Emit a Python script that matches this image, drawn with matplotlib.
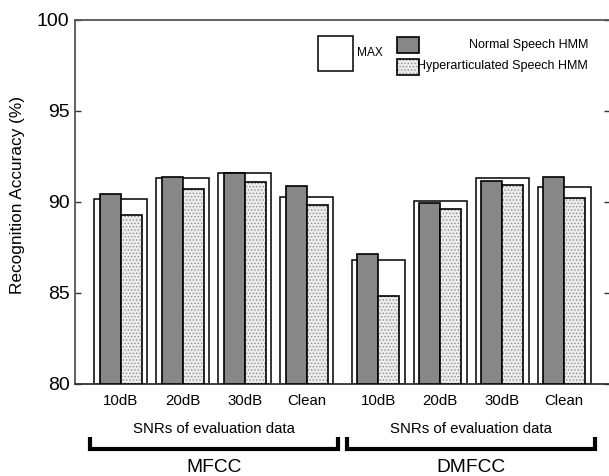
import matplotlib
matplotlib.use("Agg")
import matplotlib.pyplot as plt
from matplotlib.patches import Rectangle
from matplotlib.lines import Line2D
import numpy as np

plt.rcParams['font.family'] = ['Liberation Sans', 'DejaVu Sans']

# ---------------- data ----------------
snr_labels = ["10dB", "20dB", "30dB", "Clean"]
feature_groups = ["MFCC", "DMFCC"]
group_subtitle = "SNRs of evaluation data"

max_mfcc = [90.18, 91.34, 91.62, 90.30]
normal_mfcc = [90.42, 91.35, 91.60, 90.90]
hyper_mfcc = [89.30, 90.72, 91.10, 89.82]

max_dmfcc = [86.82, 90.03, 91.30, 90.84]
normal_dmfcc = [87.12, 89.95, 91.14, 91.38]
hyper_dmfcc = [84.83, 89.60, 90.95, 90.24]

y_ticks = [80, 85, 90, 95, 100]

# ---------------- figure ----------------
W, H = 609, 476
fig = plt.figure(figsize=(W / 100, H / 100), dpi=100)

def fx(px):
    return px / W

def fy(py):
    return 1 - py / H

ax_left, ax_right, ax_top, ax_bottom = 75, 610, 20, 384
ax = fig.add_axes([fx(ax_left), fy(ax_bottom), fx(ax_right - ax_left), (ax_bottom - ax_top) / H])

def axfx(px):
    return (px - ax_left) / (ax_right - ax_left)

def axfy(py):
    return (ax_bottom - py) / (ax_bottom - ax_top)

group_offset = 4.15
x1 = np.arange(4)
x2 = np.arange(4) + group_offset
xs = np.concatenate([x1, x2])
max_vals = np.array(max_mfcc + max_dmfcc)
normal_vals = np.array(normal_mfcc + normal_dmfcc)
hyper_vals = np.array(hyper_mfcc + hyper_dmfcc)

wmax = 0.855
win = 0.335
base = 80

ax.bar(xs, max_vals - base, bottom=base, width=wmax, color='white',
       edgecolor='black', linewidth=1.1, zorder=2)
ax.bar(xs - win / 2, normal_vals - base, bottom=base, width=win, color='#878787',
       edgecolor='black', linewidth=1.2, zorder=3)
# hyper: light dotted fill
plt.rcParams['hatch.linewidth'] = 0.6
ax.bar(xs + win / 2, hyper_vals - base, bottom=base, width=win, color='#ececec',
       edgecolor='#8f8f8f', linewidth=0, hatch='.....', zorder=3)
ax.bar(xs + win / 2, hyper_vals - base, bottom=base, width=win, fill=False,
       edgecolor='black', linewidth=1.2, zorder=4)

ax.set_ylim(80, 100)
ax.set_xlim(-0.742, 7.15 + 0.742)
ax.set_yticks(y_ticks)
ax.set_yticklabels([str(t) for t in y_ticks], fontsize=14)
ax.set_xticks(xs)
ax.set_xticklabels(snr_labels * 2, fontsize=10.8)
ax.tick_params(axis='x', length=0, pad=7)
ax.tick_params(axis='y', direction='in', length=4, width=1, right=True, pad=4,
               color='#333333')
ax.set_ylabel("Recognition Accuracy (%)", fontsize=12.4)
ax.yaxis.set_label_coords(axfx(25), axfy(195))

for s in ['top', 'left', 'bottom', 'right']:
    ax.spines[s].set_color('#555555')
    ax.spines[s].set_linewidth(1.3)
ax.spines['bottom'].set_color('#333333')

# ---------------- group annotations ----------------
trans = matplotlib.transforms.blended_transform_factory(ax.transData, fig.transFigure)
centers = [x1.mean(), x2.mean()]
spans = [(x1[0] - 0.5, x1[-1] + 0.5), (x2[0] - 0.5, x2[-1] + 0.5)]
for name, c, (a, b) in zip(feature_groups, centers, spans):
    fig.text(c, fy(433), group_subtitle, transform=trans, ha='center', va='baseline',
             fontsize=10.8)
    line = Line2D([a, a, b, b], [fy(437), fy(449), fy(449), fy(437)], transform=trans,
                  color='black', linewidth=3, solid_joinstyle='miter',
                  solid_capstyle='butt')
    fig.add_artist(line)
    fig.text(c, fy(472), name, transform=trans, ha='center', va='baseline',
             fontsize=13.8)

# ---------------- legend (drawn manually) ----------------
def add_rect(x0, y0, x1_, y1_, **kw):
    r = Rectangle((axfx(x0), axfy(y1_)), axfx(x1_) - axfx(x0), axfy(y0) - axfy(y1_),
                  transform=ax.transAxes, clip_on=False, zorder=6, **kw)
    ax.add_patch(r)

add_rect(318, 36, 353, 71, facecolor='white', edgecolor='black', linewidth=1.1)
ax.text(axfx(357), axfy(53), "MAX", transform=ax.transAxes, fontsize=8.6,
        ha='left', va='center', zorder=7)
add_rect(397, 36.5, 418.5, 52.5, facecolor='#878787', edgecolor='black', linewidth=1.2)
add_rect(397, 59, 418.5, 74.5, facecolor='#ececec', edgecolor='#8f8f8f', linewidth=0,
         hatch='.....')
add_rect(397, 59, 418.5, 74.5, fill=False, edgecolor='black', linewidth=1.2)
ax.text(axfx(588), axfy(45), "Normal Speech HMM", transform=ax.transAxes,
        fontsize=9, ha='right', va='center', zorder=7)
ax.text(axfx(588), axfy(66), "Hyperarticulated Speech HMM", transform=ax.transAxes,
        fontsize=9, ha='right', va='center', zorder=7)

fig.savefig("out.png", dpi=100)
